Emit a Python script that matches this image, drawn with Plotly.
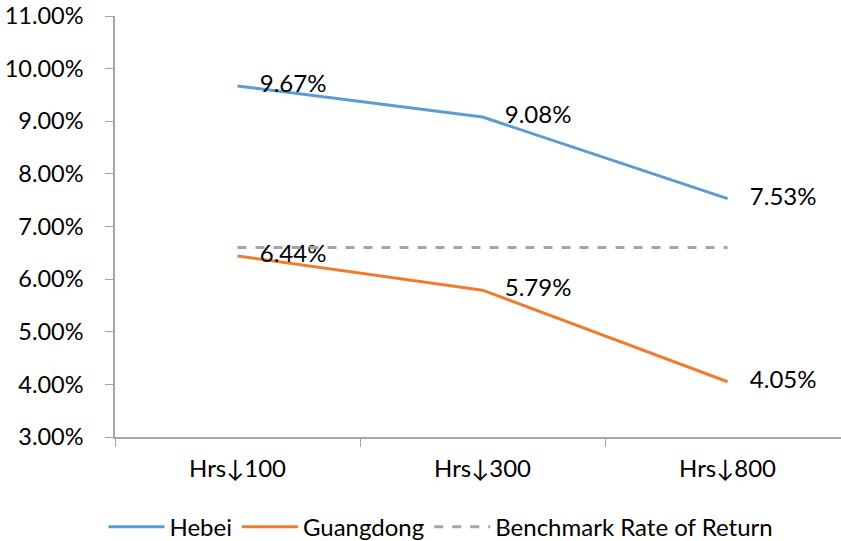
import plotly.graph_objects as go

categories = ["Hrs↓100", "Hrs↓300", "Hrs↓800"]
hebei = [0.0967, 0.0908, 0.0753]
guangdong = [0.0644, 0.0579, 0.0405]
benchmark = [0.066, 0.066, 0.066]
y_ticks = [0.03, 0.04, 0.05, 0.06, 0.07, 0.08, 0.09, 0.10, 0.11]

FONT = "Lato, 'Noto Sans', sans-serif"

fig = go.Figure()
fig.add_trace(go.Scatter(
    x=categories, y=hebei, name="Hebei", mode="lines+markers+text",
    line=dict(color="#5B9BD5", width=3),
    marker=dict(size=34, color="rgba(0,0,0,0)"),
    text=[f"{v*100:.2f}%" for v in hebei], textposition="middle right",
    textfont=dict(size=24, color="#000000", family=FONT),
))
fig.add_trace(go.Scatter(
    x=categories, y=guangdong, name="Guangdong", mode="lines+markers+text",
    line=dict(color="#ED7D31", width=3),
    marker=dict(size=34, color="rgba(0,0,0,0)"),
    text=[f"{v*100:.2f}%" for v in guangdong], textposition="middle right",
    textfont=dict(size=24, color="#000000", family=FONT),
))
fig.add_trace(go.Scatter(
    x=categories, y=benchmark, name="Benchmark Rate of Return", mode="lines",
    line=dict(color="#A5A5A5", width=3, dash="dash"),
))

fig.update_layout(
    width=841, height=541,
    margin=dict(l=115, r=0, t=16, b=104, autoexpand=False),
    paper_bgcolor="white", plot_bgcolor="white",
    font=dict(family=FONT, size=24, color="#000000"),
    showlegend=True,
    legend=dict(orientation="h", x=0.449, xanchor="center", y=-0.214, yanchor="middle",
                font=dict(size=24, family=FONT), itemwidth=56, traceorder="normal"),
)
fig.update_xaxes(
    type="category", range=[-0.5, 2.463], tickson="boundaries", automargin=False,
    showline=True, linecolor="#A6A6A6", linewidth=1.5,
    ticks="outside", ticklen=8, tickcolor="#A6A6A6",
    showgrid=False, zeroline=False, ticklabelstandoff=9,
    tickfont=dict(size=24, family=FONT),
)
fig.update_yaxes(
    range=[0.03, 0.11], tickvals=y_ticks, tickformat=".2%", automargin=False,
    showline=True, linecolor="#A6A6A6", linewidth=1.5,
    ticks="outside", ticklen=8, tickcolor="#A6A6A6",
    showgrid=False, zeroline=False, ticklabelstandoff=17,
    tickfont=dict(size=23.5, family=FONT),
)

fig.write_html(
    "out.html",
    config={"displayModeBar": False},
    post_script="document.body.style.margin='0';document.body.style.overflow='hidden';",
)
